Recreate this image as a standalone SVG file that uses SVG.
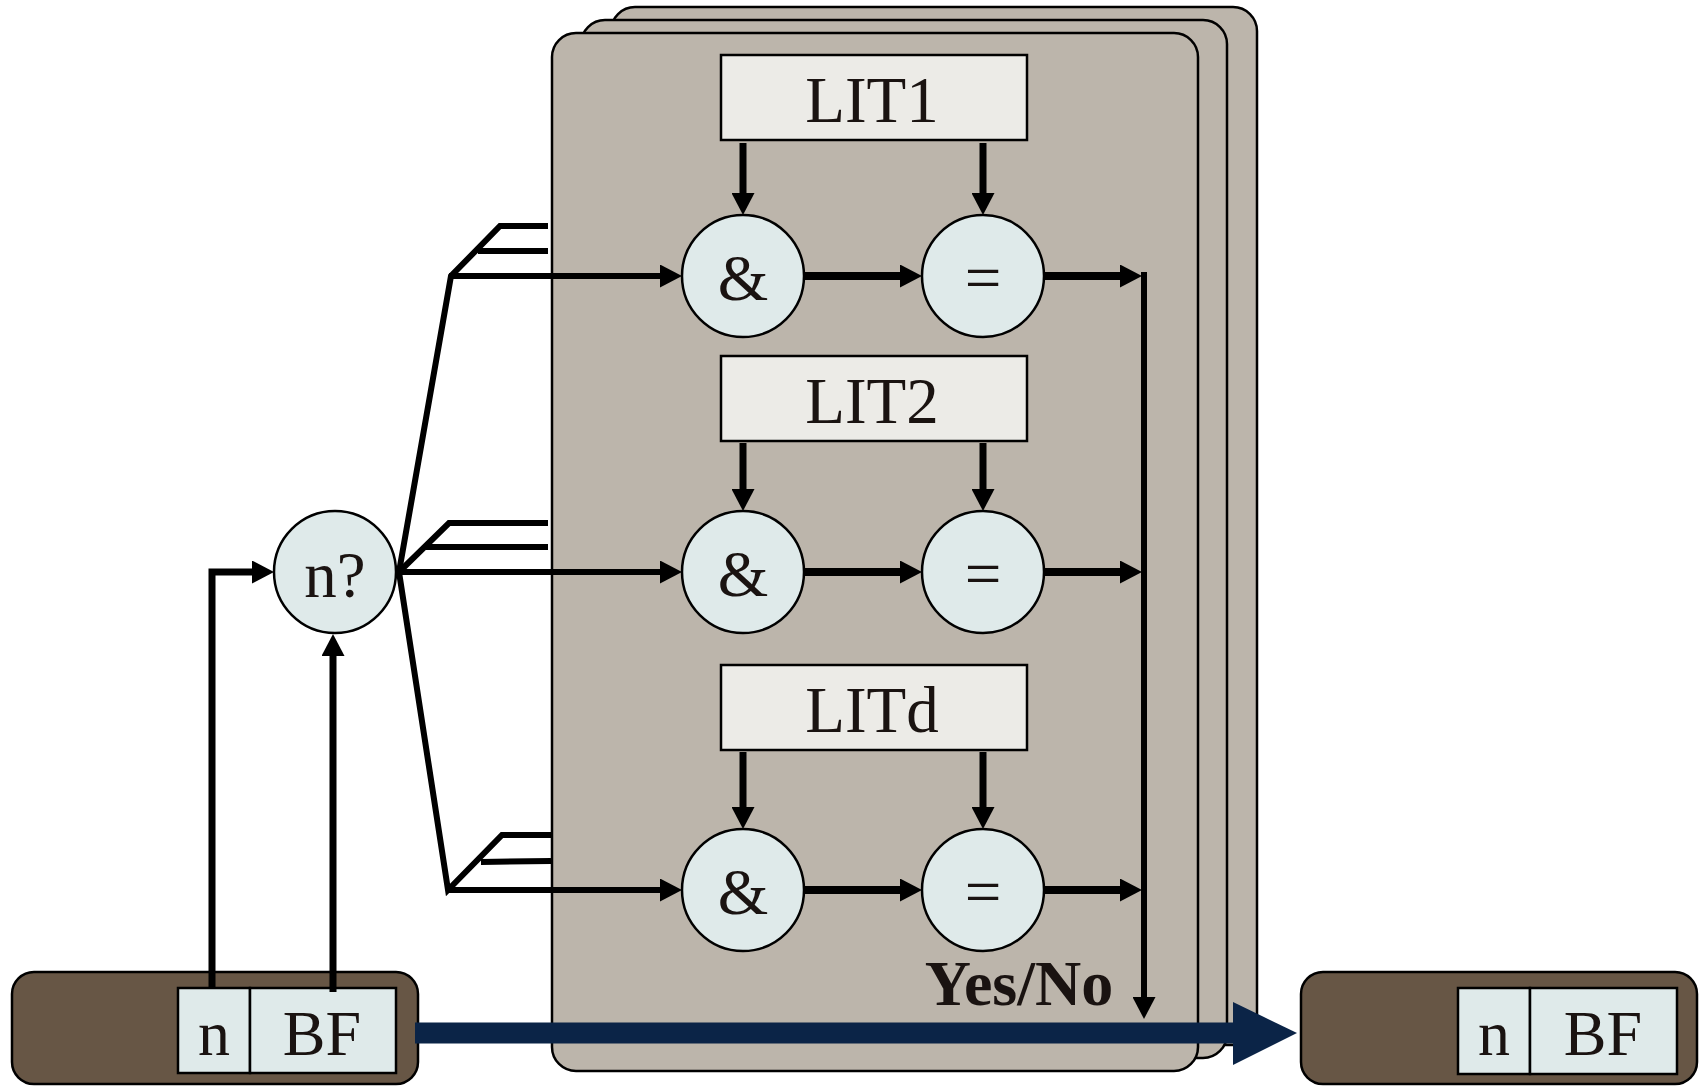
<svg xmlns="http://www.w3.org/2000/svg" width="1699" height="1087" viewBox="0 0 1699 1087">
<style>
.panel{fill:#bcb5ab;stroke:#000;stroke-width:2.5}
.lit{fill:#ecebe7;stroke:#000;stroke-width:2.5}
.op{fill:#dfeaea;stroke:#000;stroke-width:2.5}
.cell{fill:#dfeaea;stroke:#000;stroke-width:2.5}
.brown{fill:#675645;stroke:#000;stroke-width:2.5}
.t{font-family:"Liberation Serif","Times New Roman",serif;fill:#1a1311;text-anchor:middle}
.c{fill:none;stroke:#000;stroke-width:6}
.ca{fill:none;stroke:#000;stroke-width:6;marker-end:url(#ah)}
.cb{fill:none;stroke:#000;stroke-width:8;marker-end:url(#ah)}
.cm{fill:none;stroke:#000;stroke-width:7;marker-end:url(#ah)}
</style>
<defs>
<marker id="ah" markerUnits="userSpaceOnUse" viewBox="0 0 22 23" markerWidth="22" markerHeight="23" refX="10" refY="11.5" orient="auto">
<path d="M0,0 L22,11.5 L0,23 Z" fill="#000"/>
</marker>
</defs>

<g id="panels">
<rect class="panel" x="611" y="7" width="646" height="1038" rx="24"/>
<rect class="panel" x="581" y="20" width="646" height="1038" rx="24"/>
<rect class="panel" x="552" y="33" width="646" height="1038" rx="24"/>
</g>

<g id="src">
<rect class="brown" x="12" y="972" width="406" height="112" rx="22"/>
<rect class="cell" x="178" y="988" width="72" height="85"/>
<rect class="cell" x="250" y="988" width="146" height="85"/>
<text class="t" x="214" y="1055" font-size="64">n</text>
<text class="t" x="322" y="1055" font-size="64">BF</text>
</g>

<g id="dst">
<rect class="brown" x="1301" y="972" width="396" height="112" rx="22"/>
<rect class="cell" x="1458" y="988" width="72" height="86"/>
<rect class="cell" x="1530" y="988" width="147" height="86"/>
<text class="t" x="1494" y="1055" font-size="64">n</text>
<text class="t" x="1603" y="1055" font-size="64">BF</text>
</g>

<g id="nq">
<circle class="op" cx="335" cy="572" r="61"/>
<text class="t" x="335" y="597" font-size="65">n?</text>
</g>

<g id="lit1">
<rect class="lit" x="721" y="55" width="306" height="85"/>
<text class="t" x="872" y="122" font-size="65">LIT1</text>
</g>
<g id="lit2">
<rect class="lit" x="721" y="356" width="306" height="85"/>
<text class="t" x="872" y="423" font-size="65">LIT2</text>
</g>
<g id="litd">
<rect class="lit" x="721" y="665" width="306" height="85"/>
<text class="t" x="872" y="732" font-size="65">LITd</text>
</g>

<g id="and1"><circle class="op" cx="743" cy="276" r="61"/><text class="t" x="743" y="300" font-size="65">&amp;</text></g>
<g id="eq1"><circle class="op" cx="983" cy="276" r="61"/><text class="t" x="983" y="300" font-size="65">=</text></g>
<g id="and2"><circle class="op" cx="743" cy="572" r="61"/><text class="t" x="743" y="596" font-size="65">&amp;</text></g>
<g id="eq2"><circle class="op" cx="983" cy="572" r="61"/><text class="t" x="983" y="596" font-size="65">=</text></g>
<g id="and3"><circle class="op" cx="743" cy="890" r="61"/><text class="t" x="743" y="914" font-size="65">&amp;</text></g>
<g id="eq3"><circle class="op" cx="983" cy="890" r="61"/><text class="t" x="983" y="914" font-size="65">=</text></g>

<g id="yesno">
<text class="t" x="1019" y="1005" font-size="64" font-weight="bold">Yes/No</text>
</g>

<g id="connectors">
<polyline class="c" points="548,226 500,226 451,276 399,572 448,890 502,835 551,835"/>
<line class="c" x1="478" y1="251" x2="548" y2="251"/>
<polyline class="c" points="548,523 449,523 399,572"/>
<line class="c" x1="426" y1="547" x2="548" y2="547"/>
<line class="c" x1="481" y1="862" x2="551" y2="861"/>
<line class="ca" x1="449" y1="276" x2="670" y2="276"/>
<line class="ca" x1="396" y1="572" x2="670" y2="572"/>
<line class="ca" x1="446" y1="890" x2="670" y2="890"/>
<line class="cb" x1="804" y1="276" x2="910" y2="276"/>
<line class="cb" x1="804" y1="572" x2="910" y2="572"/>
<line class="cb" x1="804" y1="890" x2="910" y2="890"/>
<line class="cb" x1="1044" y1="276" x2="1130" y2="276"/>
<line class="cb" x1="1044" y1="572" x2="1130" y2="572"/>
<line class="cb" x1="1044" y1="890" x2="1130" y2="890"/>
<line class="ca" x1="1144" y1="272" x2="1144" y2="1007"/>
<line class="cm" x1="743" y1="143" x2="743" y2="203"/>
<line class="cm" x1="983" y1="143" x2="983" y2="203"/>
<line class="cm" x1="743" y1="443" x2="743" y2="499"/>
<line class="cm" x1="983" y1="443" x2="983" y2="499"/>
<line class="cm" x1="743" y1="752" x2="743" y2="817"/>
<line class="cm" x1="983" y1="752" x2="983" y2="817"/>
<polyline class="cm" points="212,988 212,572 262,572"/>
<line class="cm" x1="333" y1="992" x2="333" y2="646"/>
<line x1="415" y1="1033" x2="1236" y2="1033" stroke="#0b2447" stroke-width="21"/>
<polygon points="1233,1002 1297,1033 1233,1065" fill="#0b2447"/>
</g>
</svg>
